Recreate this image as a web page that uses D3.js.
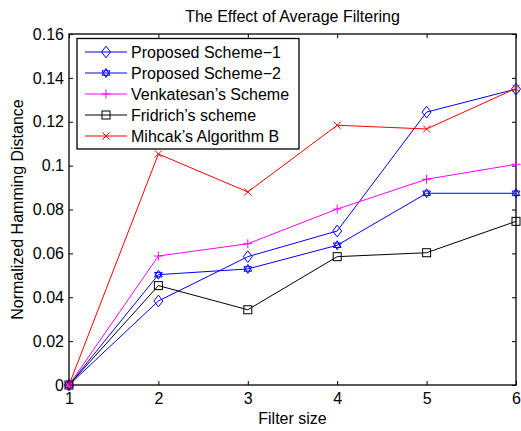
<!DOCTYPE html>
<html>
<head>
<meta charset="utf-8">
<script src="https://cdn.jsdelivr.net/npm/d3@7"></script>
<style>
  html, body { margin: 0; padding: 0; background: #fff; }
  svg { display: block; font-family: "Liberation Sans", Arial, Helvetica, sans-serif; }
</style>
</head>
<body>
<svg id="chart" width="521" height="431"></svg>
<script>
// Filter sizes along the x axis
const filterSizes = [1, 2, 3, 4, 5, 6];

// Normalized Hamming distance per scheme
const proposed1 = [0, 0.0383, 0.0585, 0.0702, 0.1244, 0.1349];
const proposed2 = [0, 0.0503, 0.0529, 0.0637, 0.0874, 0.0874];
const venkatesan = [0, 0.0588, 0.0644, 0.0802, 0.0938, 0.1006];
const fridrich = [0, 0.0453, 0.0343, 0.0585, 0.0603, 0.0746];
const mihcak = [0, 0.1053, 0.0880, 0.1184, 0.1167, 0.1352];

const seriesNames = ["Proposed Scheme\u22121", "Proposed Scheme\u22122", "Venkatesan\u2019s Scheme", "Fridrich\u2019s scheme", "Mihcak\u2019s Algorithm B"];
const xTicks = [1, 2, 3, 4, 5, 6];
const yTicks = [0, 0.02, 0.04, 0.06, 0.08, 0.1, 0.12, 0.14, 0.16];

const series = [
  { name: seriesNames[0], values: proposed1, color: "#0000ff", marker: "diamond" },
  { name: seriesNames[1], values: proposed2, color: "#0000ff", marker: "hexagram" },
  { name: seriesNames[2], values: venkatesan, color: "#ff00ff", marker: "plus" },
  { name: seriesNames[3], values: fridrich, color: "#000000", marker: "square" },
  { name: seriesNames[4], values: mihcak, color: "#ff0000", marker: "cross" }
];

const FS = "16px";
const svg = d3.select("#chart");
const margin = { left: 69, right: 5, top: 34, bottom: 46 };
const W = 521, H = 431;

const x = d3.scaleLinear().domain([1, 6]).range([margin.left, W - margin.right]);
const y = d3.scaleLinear().domain([0, 0.16]).range([H - margin.bottom, margin.top]);

const fmt = d => d === 0 ? "0" : d3.format("")(+d.toFixed(2));

// Axes with inward ticks
const xAxis = svg.append("g").attr("transform", `translate(0,${y(0)})`)
  .call(d3.axisBottom(x).tickValues(xTicks).tickSizeInner(-4).tickSizeOuter(0).tickPadding(8).tickFormat(d3.format("d")));
const xAxisTop = svg.append("g").attr("transform", `translate(0,${y(0.16)})`)
  .call(d3.axisTop(x).tickValues(xTicks).tickSizeInner(-4).tickSizeOuter(0).tickFormat(""));
const yAxis = svg.append("g").attr("transform", `translate(${x(1)},0)`)
  .call(d3.axisLeft(y).tickValues(yTicks).tickSizeInner(-4).tickSizeOuter(0).tickPadding(5).tickFormat(fmt));
const yAxisRight = svg.append("g").attr("transform", `translate(${x(6)},0)`)
  .call(d3.axisRight(y).tickValues(yTicks).tickSizeInner(-4).tickSizeOuter(0).tickFormat(""));

[xAxis, xAxisTop, yAxis, yAxisRight].forEach(g => {
  g.select(".domain").remove();
  g.selectAll(".tick line").attr("stroke", "#000").attr("stroke-width", 1);
  g.selectAll("text").attr("fill", "#000").style("font-size", FS);
});
xAxis.selectAll("text").attr("dy", "0.71em");

// Plot frame
svg.append("rect")
  .attr("x", x(1)).attr("y", y(0.16))
  .attr("width", x(6) - x(1)).attr("height", y(0) - y(0.16))
  .attr("fill", "none").attr("stroke", "#000").attr("stroke-width", 1.3);

// Marker shapes
function marker(g, type, color) {
  const s = 4.5;
  if (type === "diamond") {
    g.append("path").attr("d", `M0,${-s * 1.3}L${s},0L0,${s * 1.3}L${-s},0Z`)
      .attr("fill", "none").attr("stroke", color).attr("stroke-width", 1);
  } else if (type === "hexagram") {
    const r = 4.5;
    const tri = a => d3.range(3).map(i => {
      const ang = a + i * 2 * Math.PI / 3;
      return [r * Math.cos(ang), r * Math.sin(ang)];
    });
    [-Math.PI / 2, Math.PI / 2].forEach(a => {
      g.append("path").attr("d", "M" + tri(a).join("L") + "Z")
        .attr("fill", "none").attr("stroke", color).attr("stroke-width", 1);
    });
  } else if (type === "plus") {
    g.append("path").attr("d", `M${-s},0H${s}M0,${-s}V${s}`)
      .attr("stroke", color).attr("stroke-width", 1);
  } else if (type === "square") {
    g.append("rect").attr("x", -4).attr("y", -4).attr("width", 8).attr("height", 8)
      .attr("fill", "none").attr("stroke", color).attr("stroke-width", 1);
  } else if (type === "cross") {
    const c = 3.5;
    g.append("path").attr("d", `M${-c},${-c}L${c},${c}M${-c},${c}L${c},${-c}`)
      .attr("stroke", color).attr("stroke-width", 1);
  }
}

const line = d3.line().x((d, i) => x(filterSizes[i])).y(d => y(d));

series.forEach(s => {
  svg.append("path").datum(s.values)
    .attr("d", line).attr("fill", "none")
    .attr("stroke", s.color).attr("stroke-width", 1);
  s.values.forEach((v, i) => {
    const g = svg.append("g").attr("transform", `translate(${x(filterSizes[i])},${y(v)})`);
    marker(g, s.marker, s.color);
  });
});

// Legend
const lg = svg.append("g");
lg.append("rect").attr("x", 77).attr("y", 38.5).attr("width", 222).attr("height", 110.5)
  .attr("fill", "#fff").attr("stroke", "#000").attr("stroke-width", 1.3);
series.forEach((s, i) => {
  const cy = 52 + i * 21;
  lg.append("line").attr("x1", 85).attr("x2", 127).attr("y1", cy).attr("y2", cy)
    .attr("stroke", s.color).attr("stroke-width", 1);
  marker(lg.append("g").attr("transform", `translate(106,${cy})`), s.marker, s.color);
  lg.append("text").attr("x", 131).attr("y", cy).attr("dy", "0.35em")
    .style("font-size", FS).attr("fill", "#000").text(s.name);
});

// Titles
svg.append("text").attr("x", (x(1) + x(6)) / 2).attr("y", 16).attr("dy", "0.35em")
  .attr("text-anchor", "middle").style("font-size", FS).text("The Effect of Average Filtering");
svg.append("text").attr("x", (x(1) + x(6)) / 2).attr("y", 418).attr("dy", "0.35em")
  .attr("text-anchor", "middle").style("font-size", FS).text("Filter size");
svg.append("text").attr("transform", `translate(17,${(y(0) + y(0.16)) / 2}) rotate(-90)`)
  .attr("dy", "0.35em").attr("text-anchor", "middle").style("font-size", FS)
  .text("Normalized Hamming Distance");
</script>
</body>
</html>
